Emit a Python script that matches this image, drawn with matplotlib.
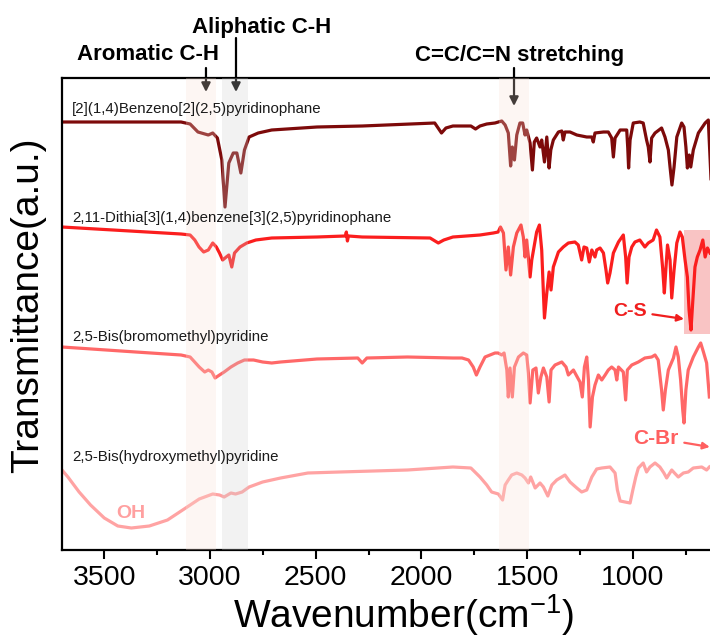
import matplotlib
matplotlib.use('Agg')
import matplotlib.pyplot as plt
from matplotlib.ticker import MultipleLocator
from matplotlib.patches import Rectangle

plt.rcParams['font.family'] = ['Liberation Sans', 'DejaVu Sans']
plt.rcParams['mathtext.fontset'] = 'custom'
plt.rcParams['mathtext.rm'] = 'Liberation Sans'
plt.rcParams['mathtext.it'] = 'Liberation Sans:italic'
plt.rcParams['mathtext.bf'] = 'Liberation Sans:bold'

# ---------------- data (wavenumber cm-1, transmittance a.u., offset stacked) -------------
names = ["[2](1,4)Benzeno[2](2,5)pyridinophane",
         "2,11-Dithia[3](1,4)benzene[3](2,5)pyridinophane",
         "2,5-Bis(bromomethyl)pyridine",
         "2,5-Bis(hydroxymethyl)pyridine"]
colors = ["#7d0a0a", "#fb1e1e", "#ff6868", "#ffa3a3"]

wn1 = [3700, 3137, 3094, 3057, 3008, 2987, 2965, 2944, 2929, 2911, 2890, 2873, 2854, 2837,
       2815, 2772, 2708, 2494, 2280, 1937, 1905, 1884, 1851, 1766, 1744, 1723, 1691, 1652,
       1620, 1604, 1589, 1578, 1570, 1560, 1549, 1534, 1521, 1510, 1502, 1486, 1475, 1466,
       1455, 1439, 1431, 1418, 1407, 1396, 1388, 1376, 1352, 1336, 1329, 1321, 1297, 1265,
       1218, 1194, 1187, 1179, 1139, 1116, 1100, 1092, 1084, 1060, 1029, 1024, 1020, 1013,
       998, 967, 951, 935, 927, 919, 911, 895, 864, 848, 832, 824, 815, 805, 792, 769, 758,
       749, 742, 733, 726, 714, 690, 658, 643, 630]
t1 = [428, 428, 426, 418, 415, 417, 412, 390, 343, 387, 397, 397, 377, 400,
      413, 417, 420, 423, 424, 427, 417, 422, 424, 424, 421, 424, 426, 427,
      429, 425, 417, 384, 403, 390, 415, 427, 427, 415, 420, 407, 380, 408,
      412, 403, 410, 388, 413, 382, 400, 410, 418, 419, 410, 418, 418, 415,
      413, 413, 408, 417, 418, 418, 412, 393, 412, 420, 420, 402, 382, 410,
      427, 428, 427, 410, 403, 388, 412, 417, 422, 413, 400, 383, 365, 383, 413, 427, 423,
      403, 382, 395, 383, 400, 417, 427, 430, 370]

wn2 = [3700, 3137, 3094, 3072, 3052, 3030, 3008, 2987, 2970, 2955, 2940, 2923, 2911, 2897,
       2884, 2858, 2826, 2783, 2708, 2494, 2360, 2355, 2350, 2345, 2280, 1959, 1920, 1894,
       1851, 1723, 1660, 1637, 1626, 1612, 1600, 1589, 1578, 1565, 1549, 1529, 1518, 1510,
       1502, 1486, 1478, 1455, 1442, 1431, 1423, 1418, 1407, 1396, 1387, 1376, 1352, 1329,
       1305, 1274, 1258, 1242, 1231, 1218, 1206, 1194, 1179, 1171, 1155, 1139, 1127, 1119,
       1108, 1092, 1068, 1045, 1034, 1027, 1018, 1005, 990, 967, 943, 927, 904, 888, 872,
       859, 851, 844, 836, 824, 816, 805, 792, 777, 766, 753, 742, 734, 725, 717, 706, 695,
       682, 669, 658, 647, 635]
t2 = [323, 316, 315, 310, 303, 298, 300, 307, 303, 297, 290, 293, 295, 283,
      297, 303, 307, 310, 312, 313, 314, 318, 309, 314, 313, 312, 307, 310,
      313, 315, 317, 318, 323, 317, 280, 303, 275, 303, 317, 325, 313, 293,
      310, 273, 290, 318, 325, 300, 257, 232, 257, 278, 260, 283, 298, 303,
      307, 308, 305, 290, 303, 302, 288, 300, 293, 300, 302, 297, 280, 267,
      277, 297, 308, 315, 293, 267, 293, 303, 308, 310, 303, 307, 310, 320, 313,
      282, 257, 280, 305, 290, 252, 280, 307, 318, 313, 290, 273, 240, 220, 247, 283, 293,
      300, 310, 293, 302, 297]

wn3 = [3700, 3351, 3137, 3094, 3051, 3025, 3008, 2991, 2976, 2955, 2933, 2901, 2869, 2837,
       2794, 2751, 2708, 2666, 2494, 2301, 2280, 2258, 2066, 1851, 1808, 1777, 1755, 1740,
       1723, 1699, 1652, 1637, 1620, 1609, 1596, 1589, 1581, 1570, 1560, 1541, 1518, 1502,
       1494, 1486, 1473, 1458, 1447, 1435, 1423, 1407, 1396, 1387, 1368, 1336, 1316, 1305,
       1281, 1250, 1239, 1229, 1218, 1210, 1202, 1191, 1179, 1163, 1147, 1131, 1116, 1100,
       1084, 1076, 1068, 1045, 1034, 1026, 1005, 974, 943, 911, 895, 880, 864, 856, 846,
       832, 808, 796, 785, 774, 764, 758, 749, 738, 714, 690, 679, 666, 651, 638]
t3 = [203, 198, 195, 193, 183, 178, 180, 178, 172, 175, 178, 183, 187, 190,
      190, 188, 187, 188, 191, 192, 187, 192, 193, 192, 192, 190, 183, 175,
      183, 193, 197, 197, 195, 197, 180, 153, 182, 153, 183, 193, 197, 195,
      177, 147, 180, 182, 157, 173, 182, 173, 148, 180, 185, 188, 183, 175,
      180, 168, 153, 183, 193, 170, 123, 153, 165, 175, 170, 175, 180, 183,
      180, 170, 183, 178, 150, 180, 185, 188, 192, 193, 195, 190, 160, 140, 160,
      180, 192, 203, 193, 170, 140, 127, 160, 180, 193, 203, 207, 198, 187, 153]

wn4 = [3700, 3672, 3619, 3565, 3500, 3436, 3372, 3287, 3201, 3115, 3051, 2987, 2955, 2933,
       2901, 2879, 2848, 2815, 2751, 2666, 2537, 2387, 2066, 1851, 1766, 1723, 1691, 1668,
       1636, 1616, 1604, 1589, 1573, 1549, 1525, 1510, 1494, 1483, 1462, 1439, 1423, 1402,
       1383, 1360, 1321, 1297, 1265, 1242, 1218, 1194, 1171, 1147, 1108, 1084, 1073, 1060,
       1037, 1013, 1000, 986, 974, 951, 935, 919, 895, 872, 853, 840, 816, 803, 785, 761,
       738, 714, 674, 651, 638]
t4 = [80, 73, 58, 45, 32, 24, 22, 24, 30, 42, 51, 56, 55, 53,
      57, 56, 58, 63, 68, 72, 77, 78, 80, 83, 82, 73, 65, 58,
      56, 50, 65, 70, 75, 77, 75, 72, 67, 73, 62, 67, 63, 54,
      65, 70, 75, 68, 62, 58, 60, 73, 81, 82, 83, 77, 60, 49,
      48, 47, 60, 73, 82, 87, 78, 83, 87, 83, 77, 72, 80, 77, 73, 77,
      78, 82, 83, 80, 83]

spectra = [(wn1, t1), (wn2, t2), (wn3, t3), (wn4, t4)]
label_y = [441, 332, 213, 93]

xticks_major = [3500, 3000, 2500, 2000, 1500, 1000]
bands = [(3115, 2970, "#fae0d5"), (2945, 2820, "#cfcfcf"), (1631, 1491, "#fae0d5")]
cs_band = (757, 630, 216, 320)

# ---------------- figure ----------------
fig = plt.figure(figsize=(7.10, 6.42), dpi=100)
ax = fig.add_axes([62 / 710, 92 / 642, 648 / 710, 472 / 642])
ax.set_xlim(3700, 635)
ax.set_ylim(0, 472)

# C-S highlight box (behind)
ax.add_patch(Rectangle((cs_band[1], cs_band[2]), cs_band[0] - cs_band[1],
                       cs_band[3] - cs_band[2], facecolor="#f9c4c4", edgecolor="none", zorder=1))

for (w, t), c in zip(spectra, colors):
    ax.plot(w, t, color=c, lw=2.3, zorder=2, solid_joinstyle='round')

for lo, hi, col in bands:
    ax.axvspan(hi, lo, color=col, alpha=0.27, lw=0, zorder=4)

for name, y in zip(names, label_y):
    ax.text(3653, y, name, fontsize=10.8, va='center', ha='left', color='#1a1a1a', zorder=6)

# peak group annotations
arrow_kw = dict(arrowstyle='-|>', color='black', lw=1.6, mutation_scale=13, shrinkA=0, shrinkB=0)
ax.annotate('', xy=(3019, 458), xytext=(3019, 482), arrowprops=arrow_kw, annotation_clip=False)
ax.annotate('', xy=(2877, 458), xytext=(2877, 512), arrowprops=arrow_kw, annotation_clip=False)
ax.annotate('', xy=(1562, 444), xytext=(1562, 482), arrowprops=arrow_kw, annotation_clip=False)
ax.text(3293, 495, "Aromatic C-H", fontsize=16, fontweight='bold', ha='center', va='center')
ax.text(2754, 522, "Aliphatic C-H", fontsize=16, fontweight='bold', ha='center', va='center')
ax.text(1534, 495, "C=C/C=N stretching", fontsize=16, fontweight='bold', ha='center', va='center')

# C-S / C-Br / OH labels
ax.annotate('C-S', xy=(758, 231), xytext=(1013, 239), fontsize=14, fontweight='bold',
            color='#f01e1e', ha='center', va='center',
            arrowprops=dict(arrowstyle='-|>', color='#f01e1e', lw=1.6, mutation_scale=10,
                            shrinkA=2, shrinkB=0))
ax.annotate('C-Br', xy=(636, 103), xytext=(890, 112), fontsize=15, fontweight='bold',
            color='#ff6060', ha='center', va='center', annotation_clip=False,
            arrowprops=dict(arrowstyle='-|>', color='#ff6060', lw=1.6, mutation_scale=10,
                            shrinkA=2, shrinkB=0))
ax.text(3374, 37, "OH", fontsize=14, fontweight='bold', color='#ffa0a0', ha='center', va='center')

# axes styling
for s in ['left', 'bottom', 'top']:
    ax.spines[s].set_linewidth(1.6)
ax.spines['right'].set_visible(False)
ax.set_yticks([])
ax.set_xticks(xticks_major)
ax.xaxis.set_minor_locator(MultipleLocator(250))
ax.tick_params(axis='x', which='major', direction='out', length=6.5, width=1.5,
               labelsize=20.5, pad=4)
ax.tick_params(axis='x', which='minor', direction='out', length=3.8, width=1.5)

fig.text(403 / 710, (642 - 628) / 642, r"Wavenumber(cm$^{-1}$)", fontsize=28,
         ha='center', va='baseline')
fig.text(28 / 710, (642 - 305) / 642, "Transmittance(a.u.)", fontsize=28,
         rotation=90, ha='center', va='center')

fig.savefig("out.png", dpi=100)
